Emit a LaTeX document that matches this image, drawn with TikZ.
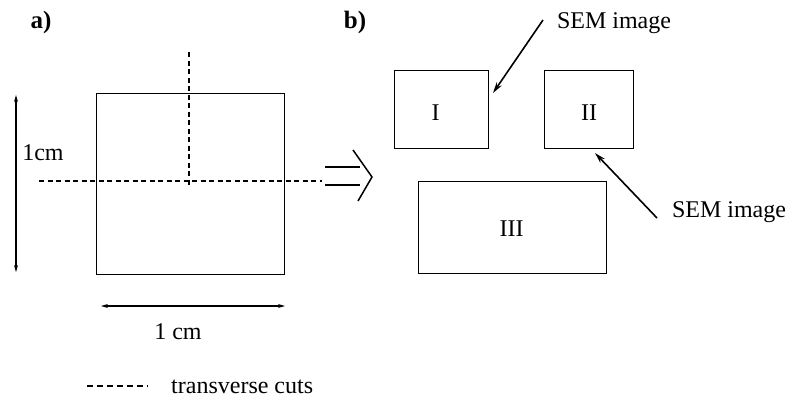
\documentclass[tikz,border=0pt]{standalone}
\usepackage{fontspec}
\setmainfont{Liberation Serif}
\usetikzlibrary{arrows.meta}
\begin{document}
\begin{tikzpicture}[x=1pt,y=-1pt,
  txt/.style={inner sep=0pt,font=\fontsize{24}{28}\selectfont},
  panel/.style={inner sep=0pt,font=\bfseries\fontsize{25}{28}\selectfont},
  piece/.style={draw,line width=1.4pt,inner sep=0pt,anchor=north west},
  cut/.style={line width=1.1pt,dash pattern=on 5pt off 3.5pt},
  dim/.style={line width=1.1pt,{Stealth[length=7pt,width=4pt]}-{Stealth[length=7pt,width=4pt]}},
  ptr/.style={line width=1.6pt,-{Stealth[length=11pt,width=6pt]}}]
\useasboundingbox (0,0) rectangle (792,399);

% panel labels
\node[panel] (la) at (41,22) {a)};
\node[panel] (lb) at (355,22) {b)};

% sample square with its transverse cuts
\node[piece,minimum width=188pt,minimum height=181pt] (sq) at (96,93) {};
\coordinate (vt) at (189,52);
\coordinate (vb) at (189,185);
\coordinate (hl) at (39,181);
\coordinate (hr) at (322,181);
\draw[cut] (vt) -- (vb);
\draw[cut] (hl) -- (hr);

% dimensions
\coordinate (dt) at (16,95);
\coordinate (db) at (16,272);
\draw[dim] (dt) -- (db);
\node[txt] (h) at (43,153) {1cm};
\coordinate (dl) at (101,306);
\coordinate (dr) at (285,306);
\draw[dim] (dl) -- (dr);
\node[txt] (w) at (178,332) {1 cm};

% legend
\coordinate (gl) at (87,386);
\coordinate (gr) at (148,386);
\draw[cut,dash pattern=on 6pt off 4pt] (gl) -- (gr);
\node[txt,anchor=west] (leg) at (171,387) {transverse cuts};

% implication arrow
\coordinate (i1) at (325,167);
\coordinate (i2) at (360,167);
\coordinate (i3) at (325,185);
\coordinate (i4) at (360,185);
\coordinate (ct) at (353,150);
\coordinate (tip) at (372,177);
\coordinate (cb) at (358,201);
\draw[line width=1.4pt] (i1) -- (i2) (i3) -- (i4);
\draw[line width=1.5pt] (ct) -- (tip) -- (cb);

% cut pieces
\node[piece,minimum width=94pt,minimum height=78pt] (p1) at (394,70) {};
\node[txt] at (p1.center) [xshift=-6pt,yshift=-3pt] {I};
\node[piece,minimum width=89pt,minimum height=78pt] (p2) at (544,70) {};
\node[txt] at (p2.center) [xshift=0pt,yshift=-3pt] {II};
\node[piece,minimum width=188pt,minimum height=92pt] (p3) at (418,181) {};
\node[txt] at (p3.center) [xshift=-1pt,yshift=-1pt] {III};

% SEM image callouts
\node[txt] (s1) at (614,23) {SEM image};
\node[txt] (s2) at (729,212) {SEM image};
\coordinate (a1) at (543,20);
\coordinate (e1) at (493,93);
\coordinate (a2) at (657,218);
\coordinate (e2) at (595,153);
\draw[ptr] (a1) -- (e1);
\draw[ptr] (a2) -- (e2);
\end{tikzpicture}
\end{document}
